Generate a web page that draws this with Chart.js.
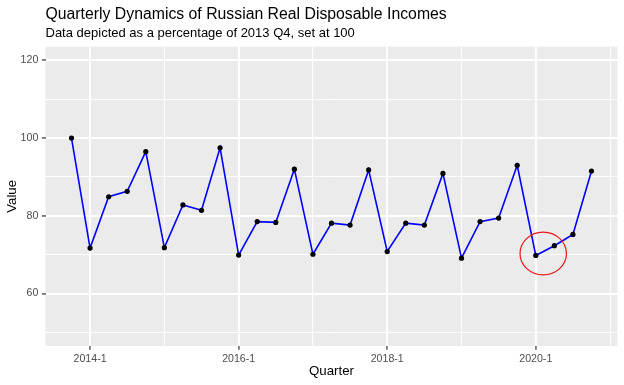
<!DOCTYPE html>
<html>
<head>
<meta charset="utf-8">
<script src="https://cdn.jsdelivr.net/npm/chart.js@4.4.0/dist/chart.umd.min.js"></script>
<style>
  html, body { margin: 0; padding: 0; background: #ffffff; }
  #wrap { width: 624px; height: 385px; position: relative; }
</style>
</head>
<body>
<div id="wrap"><canvas id="c" width="624" height="385"></canvas></div>
<script>
// ---- data ----
const quarters = [
  "2013-4",
  "2014-1","2014-2","2014-3","2014-4",
  "2015-1","2015-2","2015-3","2015-4",
  "2016-1","2016-2","2016-3","2016-4",
  "2017-1","2017-2","2017-3","2017-4",
  "2018-1","2018-2","2018-3","2018-4",
  "2019-1","2019-2","2019-3","2019-4",
  "2020-1","2020-2","2020-3","2020-4"
];
const incomeIndex = [
  100.0,
  71.7, 84.9, 86.3, 96.5,
  71.8, 82.8, 81.4, 97.5,
  69.9, 78.5, 78.3, 92.0,
  70.1, 78.1, 77.6, 91.8,
  70.8, 78.1, 77.6, 90.9,
  69.1, 78.5, 79.4, 93.0,
  69.8, 72.3, 75.2, 91.5
];
const yTickValues = [50, 60, 70, 80, 90, 100, 110, 120];
const yTickLabels = ["", "60", "", "80", "", "100", "", "120"];
const xTickIndex = [1, 5, 9, 13, 17, 21, 25, 29];
const xMajorIndex = [1, 9, 17, 25];
const titleText = "Quarterly Dynamics of Russian Real Disposable Incomes";
const subtitleText = "Data depicted as a percentage of 2013 Q4, set at 100";
// highlighted region (data coordinates): quarter index and value
const highlight = { x: 25.4, y: 70.3, rx: 1.25, ry: 5.5 };

const points = incomeIndex.map((v, i) => ({ x: i, y: v }));
const FONT = '"Liberation Sans", Arial, sans-serif';

const titlePlugin = {
  id: 'ggTitles',
  afterDraw(chart) {
    const ctx = chart.ctx;
    const left = chart.chartArea.left;
    ctx.save();
    ctx.fillStyle = '#000000';
    ctx.textAlign = 'left';
    ctx.textBaseline = 'alphabetic';
    ctx.font = '15.8px ' + FONT;
    ctx.fillText(titleText, left, 18.8);
    ctx.font = '13px ' + FONT;
    ctx.fillText(subtitleText, left, 37);
    ctx.restore();
  }
};

const bgPlugin = {
  id: 'panelBg',
  beforeDraw(chart) {
    const { ctx, chartArea: a } = chart;
    ctx.save();
    ctx.fillStyle = '#ffffff';
    ctx.fillRect(0, 0, chart.width, chart.height);
    ctx.fillStyle = '#EBEBEB';
    ctx.fillRect(a.left, a.top, a.right - a.left, a.bottom - a.top);
    ctx.restore();
  }
};

const circlePlugin = {
  id: 'highlightCircle',
  afterDatasetsDraw(chart) {
    const { ctx, scales } = chart;
    const cx = scales.x.getPixelForValue(highlight.x);
    const cy = scales.y.getPixelForValue(highlight.y);
    const rx = Math.abs(scales.x.getPixelForValue(highlight.x + highlight.rx) - cx);
    const ry = Math.abs(scales.y.getPixelForValue(highlight.y + highlight.ry) - cy);
    ctx.save();
    ctx.strokeStyle = '#E8191C';
    ctx.lineWidth = 1.2;
    ctx.beginPath();
    ctx.ellipse(cx, cy, rx, ry, 0, 0, Math.PI * 2);
    ctx.stroke();
    ctx.restore();
  }
};

new Chart(document.getElementById('c'), {
  type: 'scatter',
  data: {
    datasets: [{
      data: points,
      showLine: true,
      borderColor: '#0000FF',
      borderWidth: 1.6,
      pointRadius: 2.6,
      pointBackgroundColor: '#000000',
      pointBorderWidth: 0,
      pointHoverRadius: 2.6,
      tension: 0
    }]
  },
  options: {
    responsive: false,
    animation: false,
    devicePixelRatio: 1,
    layout: { padding: { top: 46.7, right: 6.5, left: 0, bottom: 0 } },
    plugins: { legend: { display: false }, tooltip: { enabled: false } },
    scales: {
      x: {
        type: 'linear',
        min: -1.4,
        max: 29.4,
        afterBuildTicks(s) { s.ticks = xTickIndex.map(v => ({ value: v })); },
        afterFit(s) { s.height = 39; },
        border: { display: false },
        grid: {
          color: '#FFFFFF',
          lineWidth: c => xMajorIndex.includes(c.tick && c.tick.value) ? 1.9 : 0.95,
          tickColor: c => xMajorIndex.includes(c.tick && c.tick.value) ? '#333333' : 'rgba(0,0,0,0)',
          tickWidth: 1.2,
          tickLength: 3.7,
          drawTicks: true
        },
        ticks: {
          autoSkip: false,
          maxRotation: 0,
          padding: 3.5,
          color: '#4D4D4D',
          font: { family: FONT, size: 10.6 },
          callback: v => xMajorIndex.includes(v) ? quarters[v] : ''
        },
        title: {
          display: true,
          text: 'Quarter',
          color: '#000000',
          font: { family: FONT, size: 13.3 },
          padding: { top: 0, bottom: 5.5 }
        }
      },
      y: {
        type: 'linear',
        min: 46.5,
        max: 123.5,
        afterBuildTicks(s) { s.ticks = yTickValues.map(v => ({ value: v })); },
        afterFit(s) { s.width = 45.5; },
        border: { display: false },
        grid: {
          color: '#FFFFFF',
          lineWidth: c => (c.tick && c.tick.value % 20 === 0) ? 1.9 : 0.95,
          tickColor: c => (c.tick && c.tick.value % 20 === 0) ? '#333333' : 'rgba(0,0,0,0)',
          tickWidth: 1.2,
          tickLength: 3.7,
          drawTicks: true
        },
        ticks: {
          autoSkip: false,
          padding: 3.5,
          color: '#4D4D4D',
          font: { family: FONT, size: 10.6 },
          callback: v => yTickLabels[yTickValues.indexOf(v)] || ''
        },
        title: {
          display: true,
          text: 'Value',
          color: '#000000',
          font: { family: FONT, size: 13.3 },
          padding: { top: 4, bottom: 0 }
        }
      }
    }
  },
  plugins: [bgPlugin, circlePlugin, titlePlugin]
});
</script>
</body>
</html>
